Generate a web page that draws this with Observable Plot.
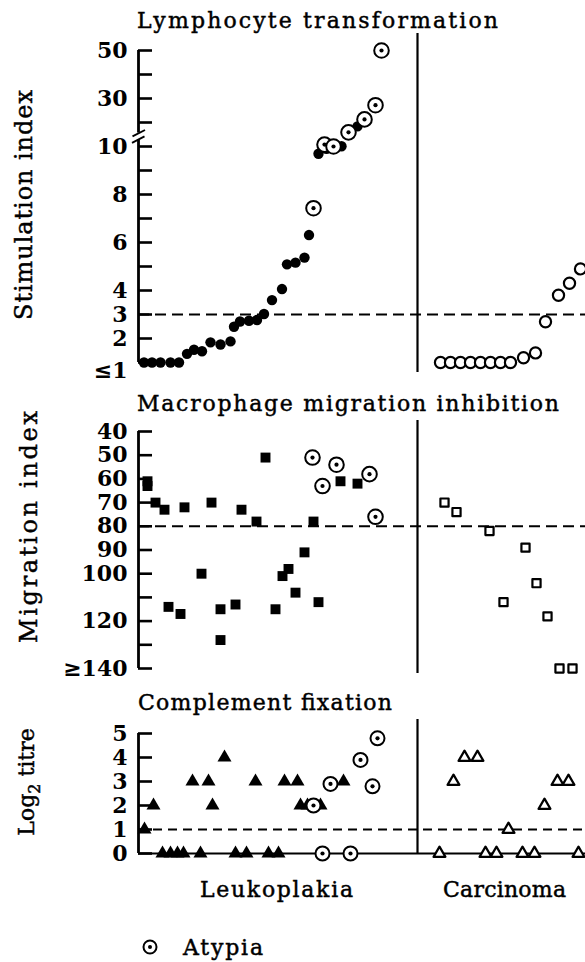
<!DOCTYPE html>
<html><head><meta charset="utf-8">
<script src="https://cdn.jsdelivr.net/npm/d3@7"></script>
<script src="https://cdn.jsdelivr.net/npm/@observablehq/plot@0.6"></script>
<style>
body{margin:0;background:#fff;}
#wrap{position:relative;width:585px;height:962px;overflow:hidden;background:#fff;}
</style></head><body><div id="wrap"></div>
<script>
// ---------- DATA ----------
// x = horizontal position of each case (arbitrary ranking units), y = measured value
// Lymphocyte transformation (stimulation index)
const lymphLeukX = [1.1,2.7,4.4,6.4,8.1,9.7,11.1,12.7,14.4,16.4,18.4,19.1,20.3,22.1,23.7,25.1,26.7,28.7,29.7,31.4,33.2,34.1,36.0,37.6,40.6,43.8];
const lymphLeukY = [1,1,1,1,1,1.36,1.53,1.47,1.84,1.75,1.88,2.49,2.71,2.74,2.77,3.02,3.6,4.06,5.09,5.16,5.37,6.31,9.7,9.9,10.1,18.4];
const lymphAtypiaX = [35.0,37.2,39.0,42.0,45.2,47.4,48.6];
const lymphAtypiaY = [7.43,10.8,10.0,15.9,21.3,27.2,50];
const lymphCarcX = [60.4,62.4,64.4,66.4,68.4,70.4,72.4,74.4,77.0,79.4,81.4,84.0,86.2,88.4];
const lymphCarcY = [1,1,1,1,1,1,1,1,1.2,1.4,2.7,3.8,4.3,4.9];
const lymphTicks = [1,2,3,4,5,6,7,8,9,10,20,30,40,50];
const lymphLabelValues = [2,3,4,6,8,10,30,50];
const lymphLabelText = ["2","3","4","6","8","10","30","50"];
const lymphBottomLabel = "≤1";
const lymphThreshold = 3;
const lymphBreak = [1, 10, 50]; // broken axis: linear 1–10, compressed 10–50

// Macrophage migration inhibition (migration index)
const migLeukX = [1.8,1.8,3.4,5.2,6.0,8.4,9.2,12.6,14.6,16.4,16.4,19.4,20.6,23.6,25.4,27.4,28.8,30.0,31.4,33.2,35.0,36.0,40.4,43.8];
const migLeukY = [61,63,70,73,114,117,72,100,70,115,128,113,73,78,51,115,101,98,108,91,78,112,61,62];
const migAtypiaX = [34.8,36.8,39.6,46.2,47.4];
const migAtypiaY = [51,63,54,58,76];
const migCarcX = [61.2,63.6,70.2,73.0,77.4,79.6,81.8,84.2,86.8];
const migCarcY = [70,74,82,112,89,104,118,140,140];
const migTicks = [40,50,60,70,80,90,100,110,120,130,140];
const migLabelValues = [40,50,60,70,80,90,100,120,140];
const migLabelText = ["40","50","60","70","80","90","100","120","≥140"];
const migThreshold = 80;

// Complement fixation (log2 titre)
const compLeukX = [1.2,3.0,4.8,6.4,7.8,9.0,10.8,12.4,14.0,14.8,17.2,19.4,21.6,23.4,26.0,28.0,29.2,31.8,32.4,33.8,36.4,41.0];
const compLeukY = [1,2,0,0,0,0,3,0,3,2,4,0,0,3,0,0,3,3,2,2,2,3];
const compAtypiaX = [35.0,36.8,38.4,42.4,44.4,46.8,47.8];
const compAtypiaY = [2,0,2.9,0,3.9,2.8,4.8];
const compCarcX = [60.2,63.0,65.2,67.8,69.4,71.6,74.0,76.8,79.2,81.2,83.8,86.0,88.0];
const compCarcY = [0,3,4,4,0,0,1,0,0,2,3,3,0];
const compTicks = [0,1,2,3,4,5];
const compLabelText = ["0","1","2","3","4","5"];
const compThreshold = 1;

const groupDivider = 55.8;
const xDomain = [0, 89.4];

// ---------- DRAWING ----------
const FONT = "DejaVu Serif";
const W = 585;
const wrap = document.getElementById("wrap");

// broken-axis warp: each tick step (1 unit below 10, 10 units above 10) gets equal space
const warp = d3.scaleLinear(lymphBreak, [0, 9, 13]);
const zip = (xs, ys, f = d => d) => xs.map((x, i) => ({x, y: f(ys[i])}));

function panel({top, height, marginTop, marginBottom, y, marks}) {
  const svg = Plot.plot({
    width: W, height, marginLeft: 138, marginRight: 0, marginTop, marginBottom,
    x: {domain: xDomain, axis: null},
    y: {...y, axis: null},
    style: {fontFamily: FONT, background: "transparent", color: "black", overflow: "visible"},
    marks
  });
  svg.style.position = "absolute";
  svg.style.left = "0px";
  svg.style.top = top + "px";
  wrap.appendChild(svg);
}

const tickLen = 2.8;
const labelStyle = {frameAnchor: "left", textAnchor: "end", dx: -11, fontSize: 22, fontWeight: "bold", fill: "black"};
const atypiaMarks = (data, r) => [
  Plot.dot(data, {x: "x", y: "y", r, fill: "white", stroke: "black", strokeWidth: 2}),
  Plot.dot(data, {x: "x", y: "y", r: 2.1, fill: "black"})
];

// Panel 1: Lymphocyte transformation
panel({
  top: 0, height: 380, marginTop: 33, marginBottom: 8,
  y: {domain: [0, 13], range: [362, 50]},
  marks: [
    Plot.ruleY([lymphThreshold], {y: warp, x1: 0, x2: xDomain[1], strokeWidth: 2, strokeDasharray: "11,6"}),
    Plot.ruleX([groupDivider], {strokeWidth: 2.2}),
    Plot.ruleX([0], {y1: warp(1), y2: warp(50), strokeWidth: 2.8}),
    Plot.ruleY(lymphTicks, {y: warp, x1: 0, x2: tickLen, strokeWidth: 2.6}),
    Plot.ruleX([0], {y1: 9.28, y2: 9.56, stroke: "white", strokeWidth: 5}),
    Plot.link([{a: -1.3, b: 9.15, c: 1.2, d: 9.42}, {a: -1.2, b: 9.42, c: 1.3, d: 9.69}],
      {x1: "a", y1: "b", x2: "c", y2: "d", strokeWidth: 1.8}),
    Plot.text(lymphLabelValues.map((v, i) => ({v: warp(v), t: lymphLabelText[i]})), {y: "v", text: "t", ...labelStyle}),
    Plot.text([1], {y: warp, text: () => lymphBottomLabel, ...labelStyle, dy: 8}),
    Plot.dot(zip(lymphLeukX, lymphLeukY, warp), {x: "x", y: "y", r: 5.2, fill: "black"}),
    ...atypiaMarks(zip(lymphAtypiaX, lymphAtypiaY, warp), 7.3),
    Plot.dot(zip(lymphCarcX, lymphCarcY, warp), {x: "x", y: "y", r: 5.6, fill: "white", stroke: "black", strokeWidth: 2.2})
  ]
});

// Panel 2: Macrophage migration inhibition
panel({
  top: 380, height: 300, marginTop: 40, marginBottom: 7,
  y: {domain: [40, 140], range: [51, 288]},
  marks: [
    Plot.ruleY([migThreshold], {x1: 0, x2: xDomain[1], strokeWidth: 2, strokeDasharray: "11,6"}),
    Plot.ruleX([groupDivider], {strokeWidth: 2.2}),
    Plot.ruleX([0], {y1: 40, y2: 140, strokeWidth: 2.8}),
    Plot.ruleY(migTicks, {y: d => d, x1: 0, x2: tickLen, strokeWidth: 2.6}),
    Plot.text(migLabelValues.map((v, i) => ({v, t: migLabelText[i]})), {y: "v", text: "t", ...labelStyle}),
    Plot.dot(zip(migLeukX, migLeukY), {x: "x", y: "y", symbol: "square", r: 5.6, fill: "black"}),
    ...atypiaMarks(zip(migAtypiaX, migAtypiaY), 7.3),
    Plot.dot(zip(migCarcX, migCarcY), {x: "x", y: "y", symbol: "square", r: 4.6, fill: "white", stroke: "black", strokeWidth: 2.2, strokeLinejoin: "round"})
  ]
});

// Panel 3: Complement fixation
panel({
  top: 680, height: 282, marginTop: 39, marginBottom: 109,
  y: {domain: [0, 5], range: [173, 53]},
  marks: [
    Plot.ruleY([compThreshold], {x1: 0, x2: xDomain[1], strokeWidth: 1.8, strokeDasharray: "9,6"}),
    Plot.ruleX([groupDivider], {strokeWidth: 2.2}),
    Plot.ruleY([0], {x1: 0, x2: xDomain[1], strokeWidth: 2.2}),
    Plot.ruleX([0], {y1: 0, y2: 5, strokeWidth: 2.8}),
    Plot.ruleY(compTicks, {y: d => d, x1: 0, x2: tickLen, strokeWidth: 2.6}),
    Plot.text(compTicks.map((v, i) => ({v, t: compLabelText[i]})), {y: "v", text: "t", ...labelStyle}),
    Plot.dot(zip(compLeukX, compLeukY), {x: "x", y: "y", symbol: "triangle", r: 5.2, fill: "black"}),
    ...atypiaMarks(zip(compAtypiaX, compAtypiaY), 7.0),
    Plot.dot(zip(compCarcX, compCarcY), {x: "x", y: "y", symbol: "triangle", r: 4.4, fill: "white", stroke: "black", strokeWidth: 2.2, strokeLinejoin: "round"})
  ]
});

// ---------- TEXT OVERLAY ----------
const ov = d3.select(wrap).append("svg")
  .attr("width", W).attr("height", 962)
  .style("position", "absolute").style("left", "0px").style("top", "0px")
  .attr("font-family", FONT).attr("fill", "black").attr("font-size", 22)
  .attr("stroke", "black").attr("stroke-width", 0.45);

function txt(s, x, y, len, opts = {}) {
  const t = ov.append("text").attr("x", x).attr("y", y).text(s);
  if (len) t.attr("textLength", len).attr("lengthAdjust", "spacing");
  if (opts.rotate) t.attr("transform", `rotate(-90 ${x} ${y})`).attr("text-anchor", "middle");
  if (opts.size) t.attr("font-size", opts.size);
  return t;
}
txt("Lymphocyte transformation", 137, 28, 361);
txt("Macrophage migration inhibition", 137, 411, 422);
txt("Complement fixation", 138, 710, 254);
txt("Stimulation index", 32, 205, 230, {rotate: true, size: 24});
txt("Migration index", 37, 527, 232, {rotate: true, size: 24});
// Log2 titre with subscript
const lt = ov.append("text").attr("transform", "rotate(-90 34 782)").attr("x", 34).attr("y", 782)
  .attr("text-anchor", "middle").attr("font-size", 22);
lt.append("tspan").text("Log");
lt.append("tspan").attr("dy", 6).attr("font-size", 16).text("2");
lt.append("tspan").attr("dy", -6).text(" titre");
txt("Leukoplakia", 200, 897, 153);
txt("Carcinoma", 443, 897, 123);
// legend
ov.append("circle").attr("cx", 150).attr("cy", 947).attr("r", 6.5).attr("fill", "white").attr("stroke", "black").attr("stroke-width", 2);
ov.append("circle").attr("cx", 150).attr("cy", 947).attr("r", 2).attr("fill", "black").attr("stroke", "none");
txt("Atypia", 183, 955, 80);
</script>
</body></html>
